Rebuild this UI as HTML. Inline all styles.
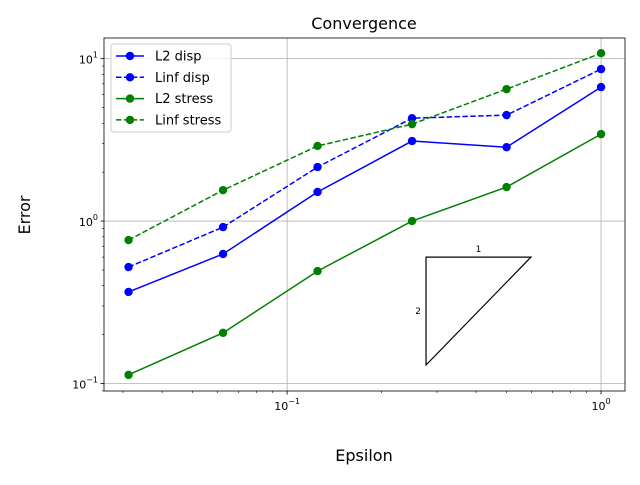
<!DOCTYPE html>
<html><head><meta charset="utf-8"><style>
body{margin:0;background:#fff;font-family:"Liberation Sans","DejaVu Sans",sans-serif}
svg text{font-family:"DejaVu Sans","Liberation Sans",sans-serif}
</style></head><body>
<svg id="chart" width="640" height="480">
<rect width="640" height="480" fill="#fff"/>
<text x="364" y="29" text-anchor="middle" font-size="16">Convergence</text>
<text x="364" y="461" text-anchor="middle" font-size="16">Epsilon</text>
<text x="30" y="215" text-anchor="middle" font-size="16" transform="rotate(-90 30 215)">Error</text>
<g id="grid"></g><g id="series"></g><g id="axes"></g>
</svg>
<script>
const eps=[1/32,1/16,1/8,1/4,1/2,1];
const l2Disp=[0.366,0.627,1.51,3.11,2.85,6.68];
const linfDisp=[0.521,0.918,2.15,4.3,4.49,8.62];
const l2Stress=[0.113,0.205,0.492,1.0,1.62,3.43];
const linfStress=[0.764,1.55,2.9,3.95,6.49,10.8];
const xTicks=[0.1,1];
const xTickExps=["−1","0"];
const yTicks=[0.1,1,10];
const yTickExps=["−1","0","1"];
const L=104,R=625,T=38,B=391;
const xmin=Math.log10(0.0261),xmax=Math.log10(1.192),ymin=Math.log10(0.0899),ymax=Math.log10(13.4);
const X=v=>L+(Math.log10(v)-xmin)/(xmax-xmin)*(R-L);
const Y=v=>B-(Math.log10(v)-ymin)/(ymax-ymin)*(B-T);
const NS="http://www.w3.org/2000/svg";
function mk(p,t,a){const e=document.createElementNS(NS,t);for(const k in a)e.setAttribute(k,a[k]);p.appendChild(e);return e;}
function pow10(t,exp){const a=mk(t,'tspan',{});a.textContent='10';const b=mk(t,'tspan',{dy:-6,'font-size':8});b.textContent=exp;}
const grid=document.getElementById('grid'),ser=document.getElementById('series'),ax=document.getElementById('axes');
xTicks.forEach((v,i)=>{const x=X(v);
 const g=mk(grid,'line',{x1:x,x2:x,y1:T,y2:B,stroke:'#b0b0b0','stroke-width':0.8});
 
 mk(ax,'line',{x1:x,x2:x,y1:B,y2:B+3.5,stroke:'#000','stroke-width':0.8});
 const t=mk(ax,'text',{x:x,y:B+19,'text-anchor':'middle','font-size':11});pow10(t,xTickExps[i]);
 });
yTicks.forEach((v,i)=>{const y=Y(v);
 const g=mk(grid,'line',{x1:L,x2:R,y1:y,y2:y,stroke:'#b0b0b0','stroke-width':0.8});
 
 mk(ax,'line',{x1:L-3.5,x2:L,y1:y,y2:y,stroke:'#000','stroke-width':0.8});
 const t=mk(ax,'text',{x:L-6,y:y+5,'text-anchor':'end','font-size':11});pow10(t,yTickExps[i]);
 });
for(let d=-2;d<=0;d++)for(let m=2;m<=9;m++){const v=m*Math.pow(10,d);
 if(Math.log10(v)>xmin&&Math.log10(v)<xmax){const x=X(v);mk(ax,'line',{x1:x,x2:x,y1:B,y2:B+2,stroke:'#000','stroke-width':0.6});}}
for(let d=-2;d<=1;d++)for(let m=2;m<=9;m++){const v=m*Math.pow(10,d);
 if(Math.log10(v)>ymin&&Math.log10(v)<ymax){const y=Y(v);mk(ax,'line',{x1:L-2,x2:L,y1:y,y2:y,stroke:'#000','stroke-width':0.6});}}
const defs=[["l2-disp",l2Disp,"blue",""],["linf-disp",linfDisp,"blue","5.5,2.4"],["l2-stress",l2Stress,"green",""],["linf-stress",linfStress,"green","5.5,2.4"]];
defs.forEach(([n,vals,c,da])=>{
 const pts=eps.map((e,i)=>X(e)+','+Y(vals[i])).join(' ');
 const pl=mk(ser,'polyline',{points:pts,fill:'none',stroke:c,'stroke-width':1.5,'stroke-dasharray':da});
 
 eps.forEach((e,i)=>{const p=mk(ser,'circle',{cx:X(e),cy:Y(vals[i]),r:4.2,fill:c});
 });
});
const tx0=0.277,tx1=0.598,ty0=0.6,ty1=0.13;
const tri=mk(ser,'polygon',{points:`${X(tx0)},${Y(ty0)} ${X(tx1)},${Y(ty0)} ${X(tx0)},${Y(ty1)}`,fill:'none',stroke:'#000','stroke-width':1.2});

let t1=mk(ser,'text',{x:(X(tx0)+X(tx1))/2,y:Y(ty0)-5,'text-anchor':'middle','font-size':9});t1.textContent='1';

let t2=mk(ser,'text',{x:X(tx0)-5,y:(Y(ty0)+Y(ty1))/2+3,'text-anchor':'end','font-size':9});t2.textContent='2';

const fr=mk(ax,'rect',{x:L,y:T,width:R-L,height:B-T,fill:'none',stroke:'#000','stroke-width':0.8});

const lg=mk(ax,'g',{});

mk(lg,'rect',{x:111,y:44,width:120,height:88,rx:3,fill:'#fff','fill-opacity':0.8,stroke:'#ccc'});
const labels=["L2 disp","Linf disp","L2 stress","Linf stress"];
defs.forEach(([n,v,c,da],i)=>{const y=56+i*21.3;
 const g=mk(lg,'g',{});
 mk(g,'line',{x1:116,x2:144,y1:y,y2:y,stroke:c,'stroke-width':1.5,'stroke-dasharray':da});
 mk(g,'circle',{cx:130,cy:y,r:4.2,fill:c});
 const t=mk(g,'text',{x:155,y:y+4.5,'font-size':13});t.textContent=labels[i];});
</script>
</body></html>
